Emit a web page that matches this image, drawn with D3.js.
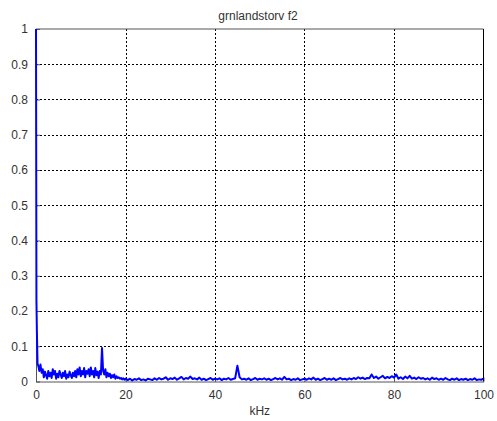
<!DOCTYPE html>
<html><head><meta charset="utf-8">
<script src="https://cdn.jsdelivr.net/npm/d3@7"></script>
<style>body{margin:0;background:#fff;} text{font-family:"Liberation Sans",Arial,sans-serif;}</style>
</head><body><svg id="c" width="497" height="421"></svg>
<script>
const title = "grnlandstorv f2";
const xLabel = "kHz";
const xTicks = [0, 20, 40, 60, 80, 100];
const yTicks = [0, 0.1, 0.2, 0.3, 0.4, 0.5, 0.6, 0.7, 0.8, 0.9, 1];
const yTickLabels = ["0", "0.1", "0.2", "0.3", "0.4", "0.5", "0.6", "0.7", "0.8", "0.9", "1"];

// head of spectrum (DC peak)
const headFreq = [0, 0.1, 0.2, 0.35];
const headAmp = [1.0, 0.23, 0.14, 0.05];

// 0.5 .. 20 kHz, step 0.25
const lowStart = 0.5, lowStep = 0.25;
const lowAmp = [
 0.045,0.03,0.048,0.025,0.035,0.012,0.028,0.018,0.008,0.03,
 0.015,0.025,0.01,0.035,0.02,0.03,0.008,0.022,0.012,0.03,
 0.02,0.01,0.025,0.015,0.03,0.008,0.02,0.012,0.028,0.018,
 0.01,0.025,0.015,0.03,0.012,0.035,0.02,0.04,0.015,0.03,
 0.02,0.038,0.012,0.03,0.022,0.035,0.015,0.04,0.02,0.03,
 0.012,0.038,0.018,0.028,0.01,0.03,0.02,0.095,0.03,0.02,
 0.035,0.012,0.025,0.015,0.022,0.01,0.018,0.012,0.02,0.008,
 0.015,0.01,0.012,0.008,0.01,0.006,0.009,0.005,0.008
];

// 20.5 .. 100 kHz, step 0.5
const highStart = 20.5, highStep = 0.5;
const highAmp = [
 0.004,0.008,0.003,0.007,0.005,0.009,0.004,0.006,0.003,0.008,
 0.006,0.004,0.009,0.005,0.01,0.006,0.008,0.012,0.005,0.009,
 0.007,0.011,0.005,0.009,0.013,0.006,0.01,0.008,0.014,0.007,
 0.009,0.006,0.011,0.005,0.008,0.004,0.007,0.01,0.005,0.008,
 0.006,0.009,0.004,0.008,0.006,0.01,0.005,0.007,0.009,0.045,
 0.012,0.006,0.008,0.005,0.009,0.004,0.007,0.01,0.005,0.008,
 0.006,0.009,0.005,0.008,0.004,0.007,0.01,0.006,0.009,0.005,
 0.013,0.006,0.008,0.004,0.007,0.005,0.009,0.004,0.006,0.008,
 0.005,0.009,0.006,0.011,0.005,0.008,0.004,0.007,0.01,0.005,
 0.008,0.005,0.009,0.004,0.007,0.01,0.006,0.008,0.005,0.009,
 0.006,0.01,0.007,0.012,0.008,0.011,0.007,0.01,0.009,0.02,
 0.01,0.014,0.008,0.012,0.016,0.009,0.013,0.01,0.015,0.011,
 0.02,0.008,0.012,0.007,0.014,0.009,0.016,0.008,0.011,0.007,
 0.012,0.008,0.01,0.006,0.009,0.005,0.011,0.007,0.009,0.005,
 0.008,0.005,0.01,0.006,0.004,0.008,0.005,0.009,0.004,0.007,
 0.005,0.008,0.004,0.007,0.005,0.009,0.004,0.006,0.005,0.008
];

const data = [];
headFreq.forEach((f,i)=>data.push([f, headAmp[i]]));
lowAmp.forEach((a,i)=>data.push([lowStart + i*lowStep, a]));
highAmp.forEach((a,i)=>data.push([highStart + i*highStep, a]));

const L = 36, R = 483.5, T = 29, B = 381.5;
const svg = d3.select("#c");
const x = d3.scaleLinear().domain([0,100]).range([L,R]);
const y = d3.scaleLinear().domain([0,1]).range([B,T]);

// grid
const g = svg.append("g");
g.selectAll(".gx").data(xTicks.slice(1,-1)).enter().append("line")
  .attr("x1",d=>Math.round(x(d))+0.5).attr("x2",d=>Math.round(x(d))+0.5)
  .attr("y1",T).attr("y2",B).attr("stroke","#000").attr("stroke-width",1).attr("stroke-dasharray","2,2");
g.selectAll(".gy").data(yTicks.slice(1,-1)).enter().append("line")
  .attr("y1",d=>Math.round(y(d))+0.5).attr("y2",d=>Math.round(y(d))+0.5)
  .attr("x1",L).attr("x2",R).attr("stroke","#000").attr("stroke-width",1).attr("stroke-dasharray","2,2");

// axes
const xAxis = d3.axisBottom(x).tickValues(xTicks).tickSizeInner(-4).tickSizeOuter(0).tickPadding(9);
const yAxis = d3.axisLeft(y).tickValues(yTicks).tickFormat((d,i)=>yTickLabels[i]).tickSizeInner(-4).tickSizeOuter(0).tickPadding(8);
const gx = svg.append("g").attr("transform",`translate(0,${B})`).call(xAxis);
const gy = svg.append("g").attr("transform",`translate(${L},0)`).call(yAxis);
[gx,gy].forEach(a=>{
  a.select(".domain").attr("stroke","#555");
  a.selectAll(".tick line").attr("stroke","#555");
  a.selectAll("text").attr("fill","#333").style("font-size","12px").style("font-family","'Liberation Sans',Arial,sans-serif");
});
// top & right box
svg.append("line").attr("x1",L).attr("x2",R).attr("y1",T).attr("y2",T).attr("stroke","#555");
svg.append("line").attr("x1",R).attr("x2",R).attr("y1",T).attr("y2",B).attr("stroke","#000");

// line
const line = d3.line().x(d=>x(d[0])).y(d=>y(d[1]));
svg.append("path").datum(data).attr("d",line).attr("fill","none")
  .attr("stroke","#0000ff").attr("stroke-width",2).attr("stroke-linejoin","round");

svg.append("text").attr("x",258).attr("y",20).attr("text-anchor","middle")
  .attr("fill","#333").style("font-size","12px").text(title);
svg.append("text").attr("x",(L+R)/2).attr("y",415).attr("text-anchor","middle")
  .attr("fill","#333").style("font-size","12px").text(xLabel);
</script></body></html>
